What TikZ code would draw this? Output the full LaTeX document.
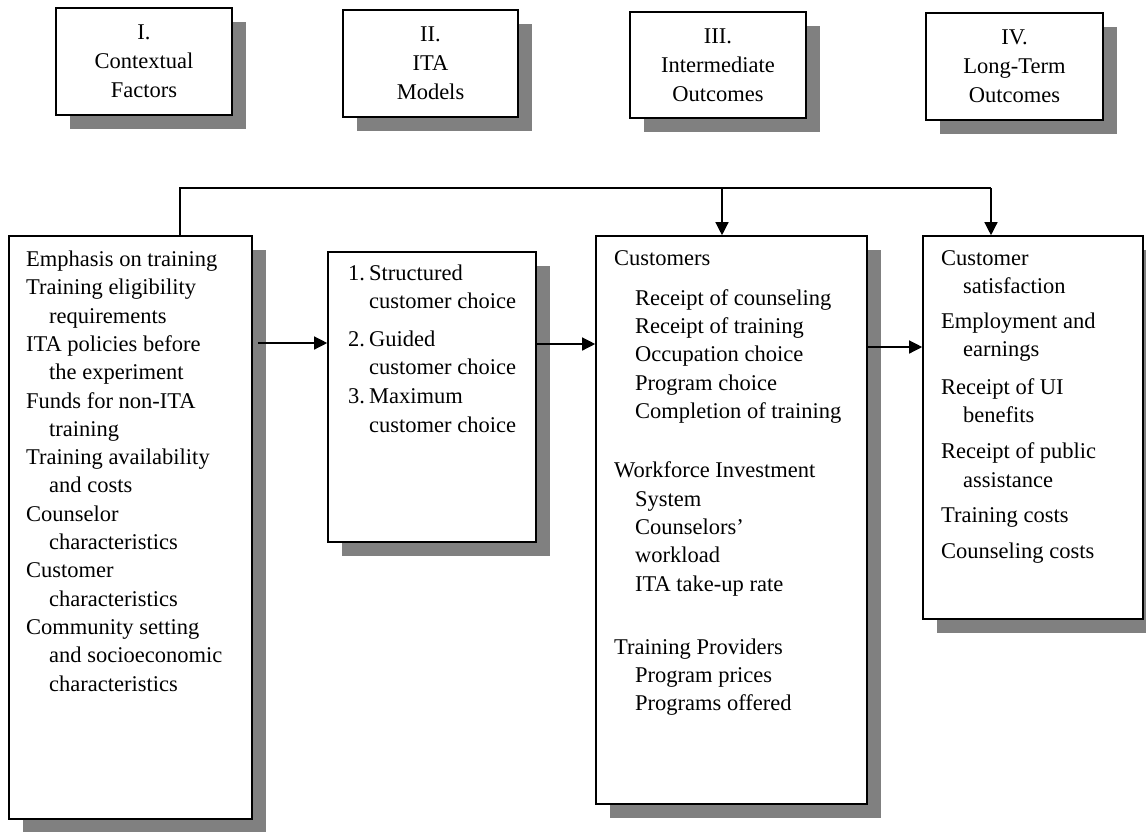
\documentclass[tikz,border=0pt]{standalone}
\usepackage{fontspec}
\setmainfont{Liberation Serif}
\usetikzlibrary{shadows,arrows.meta}
\definecolor{shadowgray}{RGB}{128,128,128}
\begin{document}
\begin{tikzpicture}[x=1pt,y=-1pt,
  box/.style={draw,line width=1.6pt,fill=white,inner sep=0pt,
    drop shadow={shadow xshift=14pt,shadow yshift=-14pt,fill=shadowgray,opacity=1}},
  txt/.style={inner sep=0pt,anchor=north west,align=left,font=\fontsize{22.5}{28.3}\selectfont},
  ttl/.style={align=center,font=\fontsize{22.5}{29}\selectfont},
  conn/.style={line width=1.3pt},
  arr/.style={conn,-{Triangle[length=13pt,width=13pt]}}]
\useasboundingbox (0,0) rectangle (1146,831);

% title boxes
\node[box,ttl,minimum width=176pt,minimum height=107pt] (t1) at (144,61.5) {I.\\Contextual\\Factors};
\node[box,ttl,minimum width=175pt,minimum height=107pt] (t2) at (430.5,63.5) {II.\\ITA\\Models};
\node[box,ttl,minimum width=176pt,minimum height=106pt] (t3) at (718,65) {III.\\Intermediate\\Outcomes};
\node[box,ttl,minimum width=177pt,minimum height=107pt] (t4) at (1014.5,66.5) {IV.\\Long-Term\\Outcomes};

% content boxes
\node[box,minimum width=243pt,minimum height=583pt] (A) at (130.5,527.5) {};
\node[box,minimum width=208pt,minimum height=290pt] (B) at (432,397) {};
\node[box,minimum width=271pt,minimum height=568pt] (C) at (731.5,520) {};
\node[box,minimum width=220pt,minimum height=383pt] (D) at (1033,427.5) {};

\node[txt] (Atext) at (26,250.7) {Emphasis on training\\
Training eligibility\\
\hspace*{23pt}requirements\\
ITA policies before\\
\hspace*{23pt}the experiment\\
Funds for non-ITA\\
\hspace*{23pt}training\\
Training availability\\
\hspace*{23pt}and costs\\
Counselor\\
\hspace*{23pt}characteristics\\
Customer\\
\hspace*{23pt}characteristics\\
Community setting\\
\hspace*{23pt}and socioeconomic\\
\hspace*{23pt}characteristics};

\node[txt] (Btext) at (348,264.7) {\makebox[21pt][l]{1.}Structured\\
\hspace*{21pt}customer choice\\[9pt]
\makebox[21pt][l]{2.}Guided\\
\hspace*{21pt}customer choice\\[1pt]
\makebox[21pt][l]{3.}Maximum\\
\hspace*{21pt}customer choice};

\node[txt] (Ctext) at (614,249.9) {Customers\\[12pt]
\hspace*{21pt}Receipt of counseling\\
\hspace*{21pt}Receipt of training\\
\hspace*{21pt}Occupation choice\\
\hspace*{21pt}Program choice\\
\hspace*{21pt}Completion of training\\[31pt]
Workforce Investment\\
\hspace*{21pt}System\\
\hspace*{21pt}Counselors’\\
\hspace*{21pt}workload\\
\hspace*{21pt}ITA take-up rate\\[35pt]
Training Providers\\
\hspace*{21pt}Program prices\\
\hspace*{21pt}Programs offered};

\node[txt] (Dtext) at (941,249.9) {Customer\\
\hspace*{22pt}satisfaction\\[7pt]
Employment and\\
\hspace*{22pt}earnings\\[9pt]
Receipt of UI\\
\hspace*{22pt}benefits\\[8pt]
Receipt of public\\
\hspace*{22pt}assistance\\[7pt]
Training costs\\[8pt]
Counseling costs};

% connectors
\coordinate (top1) at (180,188);
\coordinate (top2) at (991,188);
\coordinate (branch) at (722,188);
\draw[conn] (A.north -| top1) -- (top1) -- (top2);
\draw[arr] (top2) -- (D.north -| top2);
\draw[arr] (branch) -- (C.north -| branch);

\coordinate (ab) at (258,343);
\draw[arr] (ab) -- (B.west |- ab);
\coordinate (bc) at (536,344);
\draw[arr] (B.east |- bc) -- (C.west |- bc);
\coordinate (cd) at (867,347);
\draw[arr] (C.east |- cd) -- (D.west |- cd);
\end{tikzpicture}
\end{document}
